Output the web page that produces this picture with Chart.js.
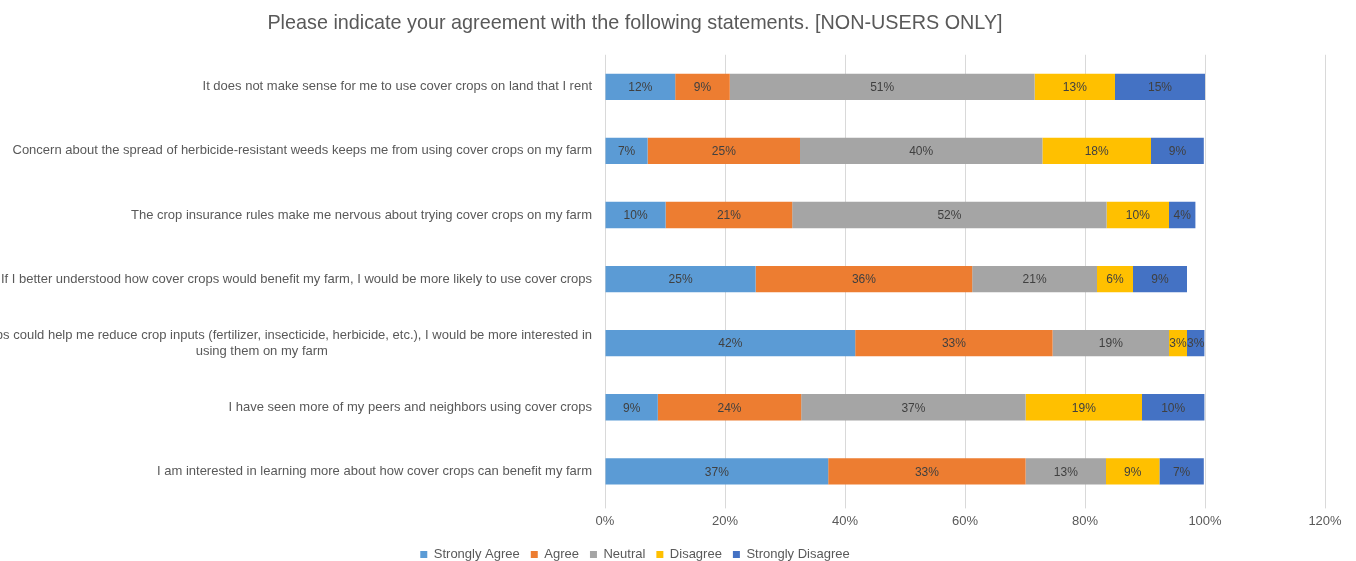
<!DOCTYPE html>
<html><head><meta charset="utf-8">
<script src="https://cdn.jsdelivr.net/npm/chart.js@4.4.0/dist/chart.umd.min.js"></script>
<style>
html,body{margin:0;padding:0;overflow:hidden;background:#fff;width:1356px;height:561px;}
#wrap{position:absolute;left:-86px;top:0;width:1442px;height:561px;}
</style></head><body>
<div id="wrap"><canvas id="c" width="1442" height="561"></canvas></div>
<script>
const chartTitle = "Please indicate your agreement with the following statements. [NON-USERS ONLY]";
const categories = [
  ["It does not make sense for me to use cover crops on land that I rent"],
  ["Concern about the spread of herbicide-resistant weeds keeps me from using cover crops on my farm"],
  ["The crop insurance rules make me nervous about trying cover crops on my farm"],
  ["If I better understood how cover crops would benefit my farm, I would be more likely to use cover crops"],
  ["If cover crops could help me reduce crop inputs (fertilizer, insecticide, herbicide, etc.), I would be more interested in", "using them on my farm"],
  ["I have seen more of my peers and neighbors using cover crops"],
  ["I am interested in learning more about how cover crops can benefit my farm"]
];
const seriesNames = ["Strongly Agree", "Agree", "Neutral", "Disagree", "Strongly Disagree"];
const stronglyAgree    = [11.7, 7.1, 10.1, 25.1, 41.7, 8.8, 37.2];
const agree            = [9.1, 25.4, 21.1, 36.1, 32.9, 23.9, 32.9];
const neutral          = [50.8, 40.4, 52.4, 20.8, 19.4, 37.4, 13.4];
const disagree         = [13.4, 18.1, 10.4, 6.0, 3.0, 19.4, 8.9];
const stronglyDisagree = [15.0, 8.8, 4.4, 9.0, 2.9, 10.4, 7.4];
const xTickValues = [0, 20, 40, 60, 80, 100, 120];
const seriesColors = ["#5B9BD5", "#ED7D31", "#A5A5A5", "#FFC000", "#4472C4"];

const FONT = "'Liberation Sans', Arial, sans-serif";
const TEXT = "#595959";

const yLabelPlugin = {
  id: 'yLabels',
  afterDraw(chart) {
    const ctx = chart.ctx;
    const ys = chart.scales.y;
    const rightEdge = chart.chartArea.left - 13;
    ctx.save();
    ctx.font = "13px " + FONT;
    ctx.fillStyle = TEXT;
    ctx.textAlign = 'center';
    ctx.textBaseline = 'middle';
    const lh = 16;
    categories.forEach((lines, i) => {
      const cy = ys.getPixelForValue(i);
      const maxW = Math.max(...lines.map(l => ctx.measureText(l).width));
      const cx = rightEdge - maxW / 2;
      const y0 = cy - (lines.length - 1) * lh / 2;
      lines.forEach((l, k) => ctx.fillText(l, cx, y0 + k * lh));
    });
    ctx.restore();
  }
};

const dataLabelPlugin = {
  id: 'dataLabels',
  afterDatasetsDraw(chart) {
    const ctx = chart.ctx;
    ctx.save();
    ctx.font = "12px " + FONT;
    ctx.fillStyle = "#404040";
    ctx.textAlign = 'center';
    ctx.textBaseline = 'middle';
    chart.data.datasets.forEach((ds, di) => {
      const meta = chart.getDatasetMeta(di);
      meta.data.forEach((el, i) => {
        const v = ds.data[i];
        const x = (el.x + el.base) / 2;
        ctx.fillText(Math.round(v) + '%', x, el.y + 1);
      });
    });
    ctx.restore();
  }
};

const allSeries = [stronglyAgree, agree, neutral, disagree, stronglyDisagree];

new Chart(document.getElementById('c'), {
  type: 'bar',
  data: {
    labels: categories.map(c => c.join(' ')),
    datasets: allSeries.map((d, i) => ({
      label: seriesNames[i],
      data: d,
      backgroundColor: seriesColors[i],
      borderWidth: 0,
      categoryPercentage: 1,
      barPercentage: 0.41
    }))
  },
  options: {
    indexAxis: 'y',
    responsive: false,
    animation: false,
    devicePixelRatio: 1,
    layout: { padding: { left: 31, right: 31, top: 0, bottom: -10 } },
    plugins: {
      title: {
        display: true,
        text: chartTitle,
        color: TEXT,
        font: { size: 19.8, family: FONT, weight: 'normal' },
        padding: { top: 12, bottom: 19 }
      },
      legend: {
        position: 'bottom',
        labels: {
          boxWidth: 7, boxHeight: 7,
          color: TEXT,
          font: { size: 13, family: FONT },
          padding: 11
        }
      },
      tooltip: { enabled: false }
    },
    scales: {
      x: {
        stacked: true,
        min: 0, max: 120,
        afterBuildTicks(scale) { scale.ticks = xTickValues.map(v => ({ value: v })); },
        afterFit(scale) { scale.height += 3; },
        ticks: {
          color: TEXT,
          font: { size: 13, family: FONT },
          padding: 5,
          callback: v => v + '%'
        },
        grid: { color: '#D9D9D9', tickLength: 5, drawTicks: true },
        border: { display: false }
      },
      y: {
        stacked: true,
        ticks: { display: false },
        grid: { display: false },
        border: { display: false },
        afterFit(scale) { scale.width = 660; }
      }
    }
  },
  plugins: [yLabelPlugin, dataLabelPlugin]
});
</script>
</body></html>
